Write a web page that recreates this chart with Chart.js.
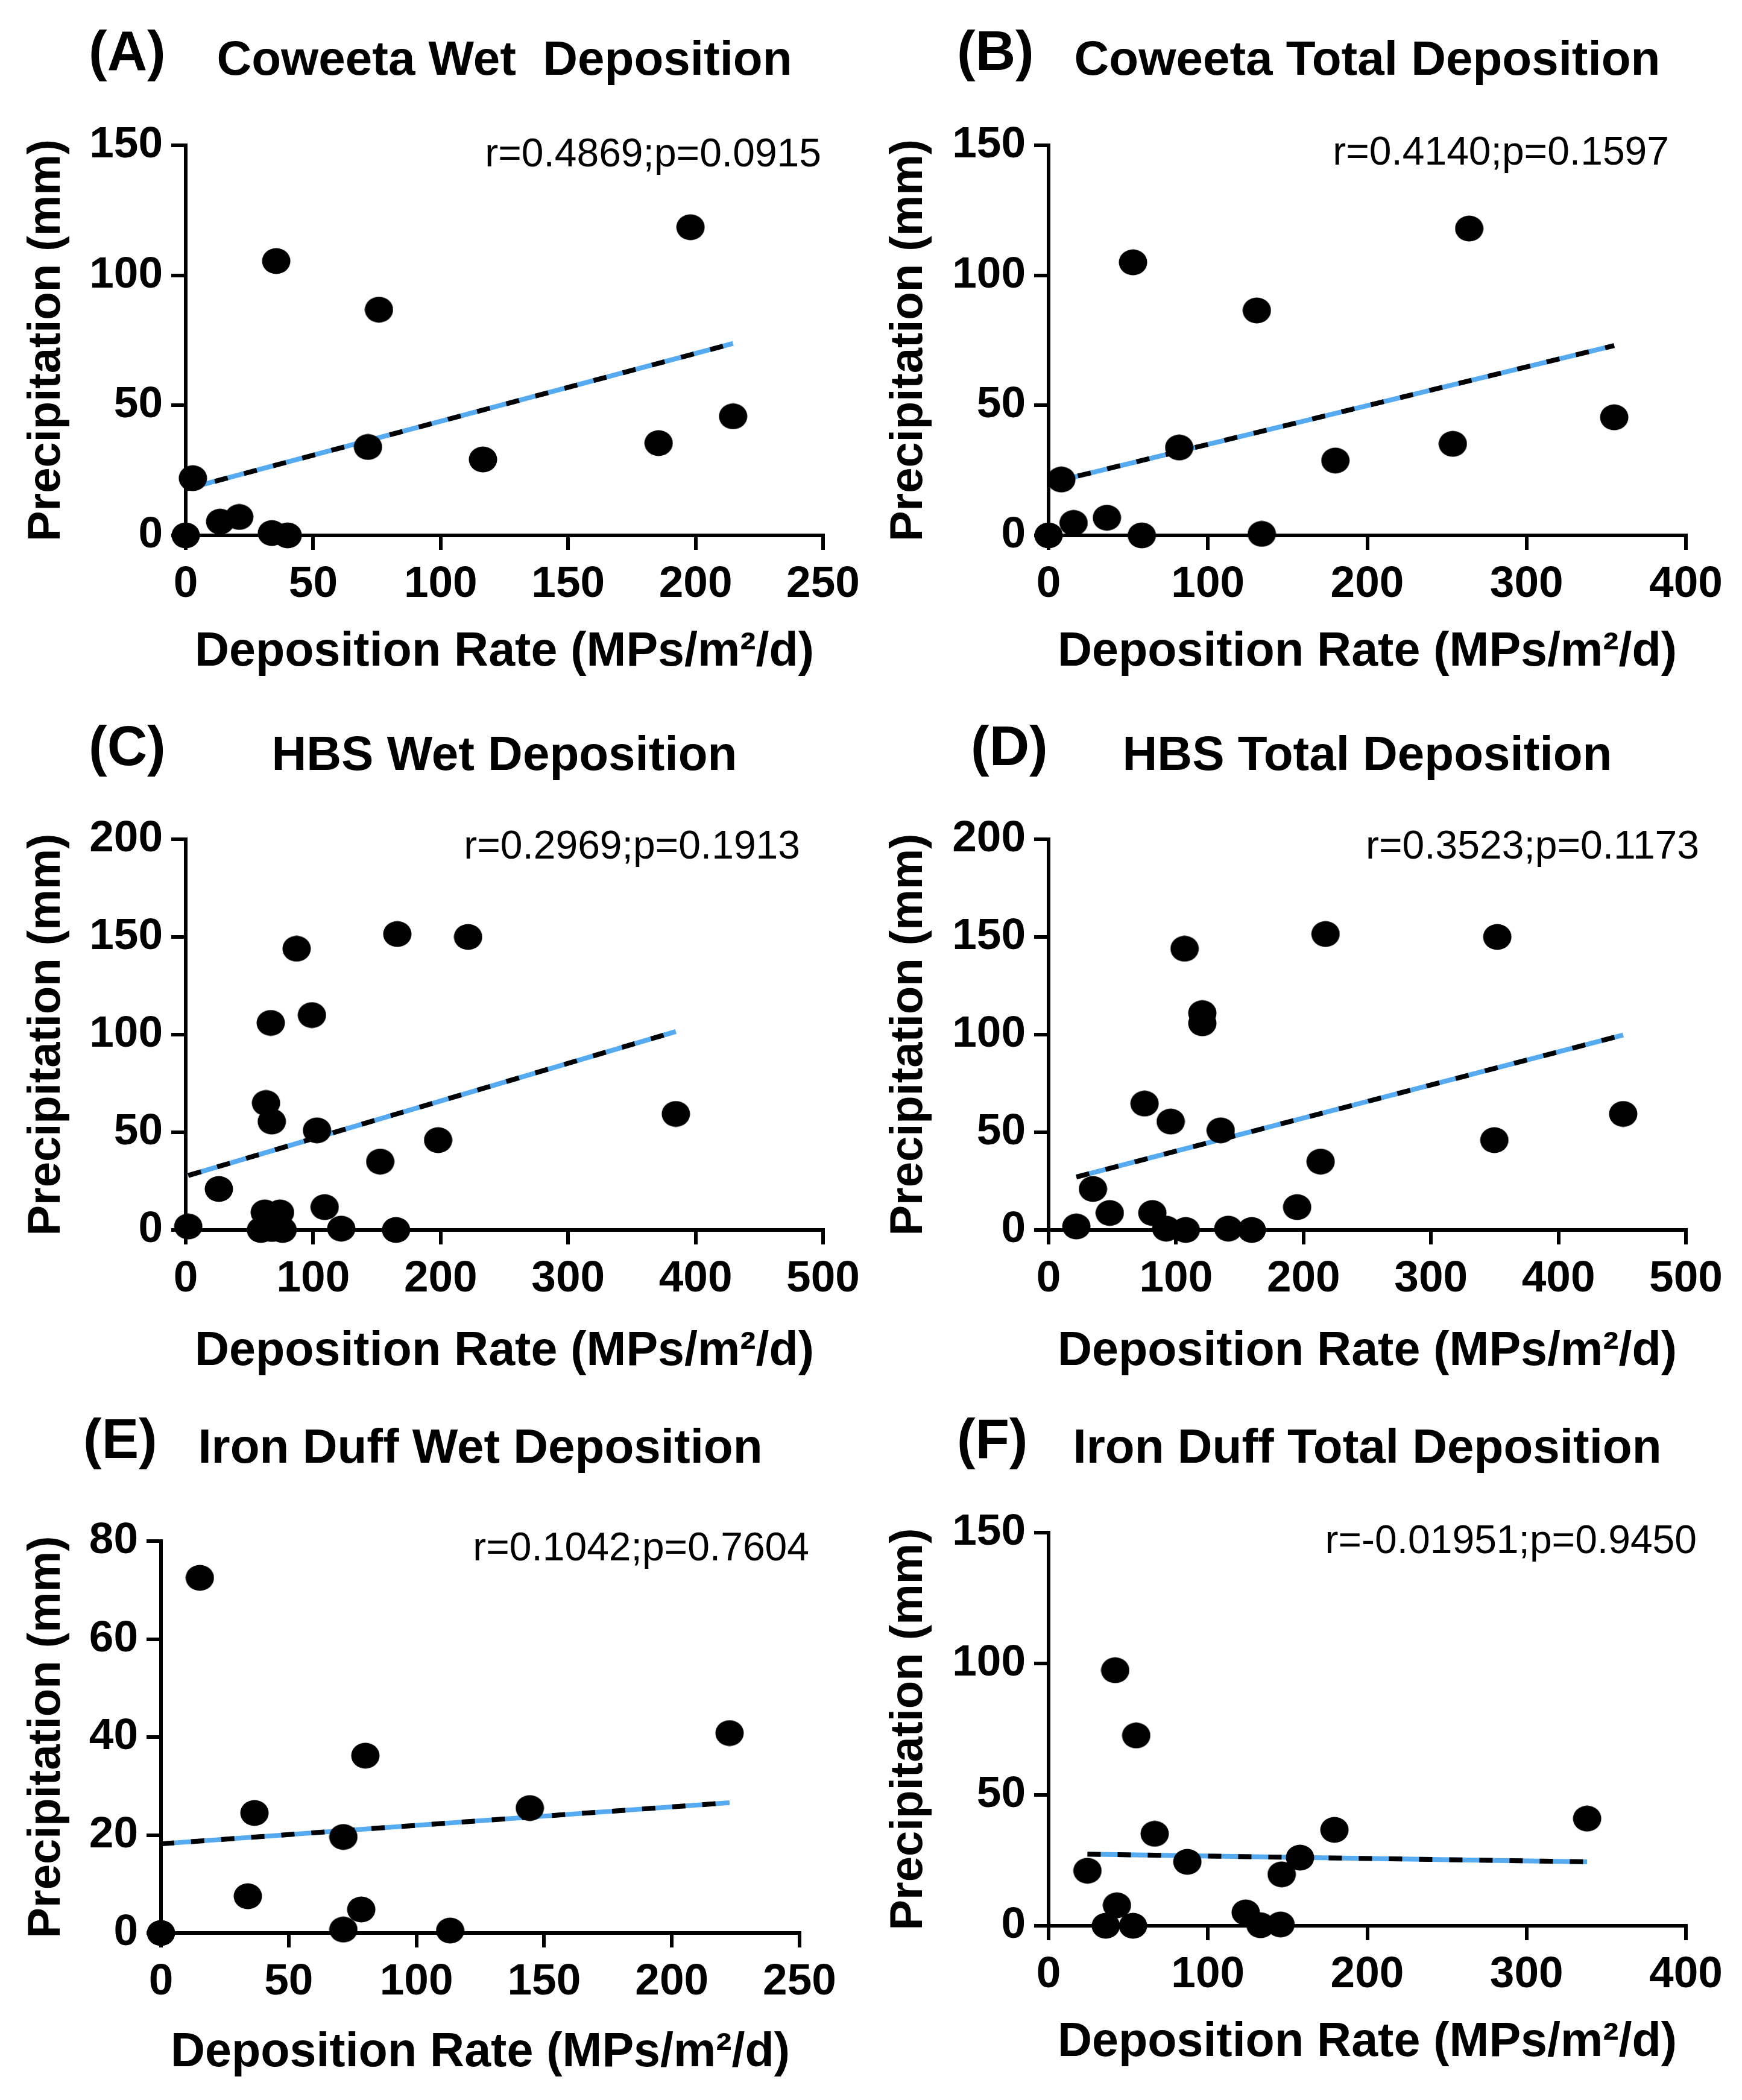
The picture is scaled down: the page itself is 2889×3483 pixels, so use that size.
<!DOCTYPE html>
<html>
<head>
<meta charset="utf-8">
<script src="https://cdn.jsdelivr.net/npm/chart.js@4.4.1/dist/chart.umd.min.js"></script>
<style>
  html, body { margin: 0; padding: 0; background: #fff; }
  #fig { position: relative; width: 2889px; height: 3483px; background: #fff; }
  #fig canvas { position: absolute; }
</style>
</head>
<body>
<div id="fig"></div>
<script>
const FONT = "'Liberation Sans', Arial, Helvetica, sans-serif";

// (A) Coweeta wet deposition
const aX = [0, 2.8, 13.5, 21, 33.8, 40, 35.5, 75.8, 71.5, 116.6, 198, 185.5, 214.7];
const aY = [0, 22, 5.3, 7.1, 0.9, 0, 105.5, 86.8, 34, 29.2, 118.5, 35.5, 45.8];
const aFitX = [0, 214.7];
const aFitY = [17.8, 73.8];

// (B) Coweeta total deposition
const bX = [0, 8, 15.7, 36.6, 58.5, 53, 82, 130.7, 133.8, 180, 264, 253.7, 355];
const bY = [0, 21.5, 4.8, 6.8, 0, 105, 33.8, 86.5, 0.6, 28.8, 118, 35.2, 45.4];
const bFitX = [0, 355];
const bFitY = [20.1, 73];

// (C) HBS wet deposition
const cX = [2, 26, 59, 62, 74, 67.5, 76, 63, 67.5, 66.7, 87, 99, 103, 109, 122, 152.6, 165, 166, 221.5, 198, 384.5];
const cY = [1.8, 21, 0, 9, 9, 0.5, 0, 65, 55.5, 106, 144, 110, 51, 11.7, 0.7, 35, 0, 151.5, 150, 46, 59.4];
const cFitX = [2, 384.5];
const cFitY = [27.9, 101.6];

// (D) HBS total deposition
const dX = [21.8, 34.8, 48, 81.4, 92.3, 107.6, 75.3, 95.8, 106.7, 120.6, 120.6, 135, 141, 159.4, 195, 213.4, 217.3, 352, 349.7, 450.8];
const dY = [1.8, 21, 8.7, 8.7, 0.7, 0, 64.7, 55.5, 144, 111, 105.8, 51, 0.7, 0, 11.7, 35, 151.5, 150, 46, 59.4];
const dFitX = [21.8, 450.8];
const dFitY = [27.1, 99.8];

// (E) Iron Duff wet deposition
const eX = [0, 15.2, 36.6, 34, 71.4, 71.4, 78.4, 80, 113.2, 144.4, 222.6];
const eY = [0, 72.5, 24.5, 7.5, 19.6, 0.7, 4.8, 36.2, 0.5, 25.5, 40.8];
const eFitX = [0, 222.6];
const eFitY = [18.2, 26.6];

// (F) Iron Duff total deposition
const fX = [24.4, 35.9, 41.8, 42.9, 53, 55, 66.6, 87.1, 123.7, 133, 145.6, 146.3, 157.8, 179.4, 338];
const fY = [21, 0, 97.5, 7.8, 0, 72.6, 35.1, 24.4, 5.1, 0.2, 0.5, 19.6, 26, 36.6, 40.9];
const fFitX = [24.4, 338];
const fFitY = [27.3, 24.4];

const labels = ['(A)', '(B)', '(C)', '(D)', '(E)', '(F)'];
const titles = [
  'Coweeta Wet  Deposition',
  'Coweeta Total Deposition',
  'HBS Wet Deposition',
  'HBS Total Deposition',
  'Iron Duff Wet Deposition',
  'Iron Duff Total Deposition'
];
const stats = [
  'r=0.4869;p=0.0915',
  'r=0.4140;p=0.1597',
  'r=0.2969;p=0.1913',
  'r=0.3523;p=0.1173',
  'r=0.1042;p=0.7604',
  'r=-0.01951;p=0.9450'
];
const xMax = [250, 400, 500, 500, 250, 400];
const xStep = [50, 100, 100, 100, 50, 100];
const yMax = [150, 150, 200, 200, 80, 150];
const yStep = [50, 50, 50, 50, 20, 50];

const xTitle = 'Deposition Rate (MPs/m\u00B2/d)';
const yTitle = 'Precipitation (mm)';

const series = [
  [aX, aY, aFitX, aFitY],
  [bX, bY, bFitX, bFitY],
  [cX, cY, cFitX, cFitY],
  [dX, dY, dFitX, dFitY],
  [eX, eY, eFitX, eFitY],
  [fX, fY, fFitX, fFitY]
];

// page layout (pixels): cell box, plot box and text anchors
const layout = [
  { left: 0,    top: 0,    w: 1444, h: 1160, pl: 308,  pt: 241,  pr: 1365, pb: 888,  labelX: 147, base: 124, statX: 1362, statY: 258, yPad: 32, xPad: 30 },
  { left: 1444, top: 0,    w: 1445, h: 1160, pl: 1739, pt: 241,  pr: 2796, pb: 888,  labelX: 143, base: 124, statX: 1324, statY: 255, yPad: 18, xPad: 30 },
  { left: 0,    top: 1160, w: 1444, h: 1160, pl: 308,  pt: 1392, pr: 1365, pb: 2040, labelX: 147, base: 117, statX: 1327, statY: 246, yPad: 32, xPad: 30 },
  { left: 1444, top: 1160, w: 1445, h: 1160, pl: 1739, pt: 1392, pr: 2796, pb: 2040, labelX: 166, base: 117, statX: 1374, statY: 246, yPad: 18, xPad: 30 },
  { left: 0,    top: 2320, w: 1444, h: 1163, pl: 267,  pt: 2556, pr: 1326, pb: 3206, labelX: 138, base: 106, statX: 1342, statY: 250, yPad: 32, xPad: 30 },
  { left: 1444, top: 2320, w: 1445, h: 1163, pl: 1739, pt: 2542, pr: 2796, pb: 3194, labelX: 143, base: 106, statX: 1370, statY: 238, yPad: 18, xPad: 47 }
];

// slightly oval filled marker, like the original dots
const dot = document.createElement('canvas');
dot.width = 48; dot.height = 44;
const g = dot.getContext('2d');
g.beginPath();
g.ellipse(24, 22, 23.5, 21.5, 0, 0, Math.PI * 2);
g.fillStyle = '#000';
g.fill();

const panelText = {
  id: 'panelText',
  afterDraw(chart, args, o) {
    const { ctx, chartArea } = chart;
    ctx.save();
    ctx.fillStyle = '#000';
    ctx.textBaseline = 'alphabetic';
    ctx.textAlign = 'left';
    ctx.font = `bold 92px ${FONT}`;
    ctx.fillText(o.label, o.labelX, o.base - 8);
    ctx.textAlign = 'center';
    ctx.font = `bold 80px ${FONT}`;
    ctx.fillText(o.title, (chartArea.left + chartArea.right) / 2, o.base);
    ctx.textAlign = 'right';
    ctx.textBaseline = 'middle';
    ctx.font = `66px ${FONT}`;
    ctx.fillText(o.stat, o.statX, o.statY);
    ctx.restore();
  }
};

function toPts(xs, ys) {
  return xs.map((x, i) => ({ x: x, y: ys[i] }));
}

const fig = document.getElementById('fig');

series.forEach((s, i) => {
  const L = layout[i];
  const c = document.createElement('canvas');
  c.width = L.w; c.height = L.h;
  c.style.left = L.left + 'px';
  c.style.top = L.top + 'px';
  c.style.width = L.w + 'px';
  c.style.height = L.h + 'px';
  fig.appendChild(c);

  const yW = L.pl - L.left;
  const xH = L.top + L.h - L.pb;
  const tickFont = { size: 73, weight: 'bold', family: FONT };
  const axisGrid = { display: true, drawOnChartArea: false, drawTicks: true, tickLength: 24, color: '#000', lineWidth: 6 };
  const axisBorder = { display: true, color: '#000', width: 6 };

  new Chart(c, {
    type: 'scatter',
    data: {
      datasets: [
        {
          data: toPts(s[0], s[1]),
          pointStyle: dot,
          pointRadius: 23,
          pointHoverRadius: 23,
          backgroundColor: '#000',
          borderWidth: 0,
          clip: false,
          order: 0
        },
        {
          type: 'line',
          data: toPts(s[2], s[3]),
          borderColor: '#000',
          borderWidth: 8,
          borderDash: [22, 28],
          pointRadius: 0,
          fill: false,
          clip: false,
          order: 1
        },
        {
          type: 'line',
          data: toPts(s[2], s[3]),
          borderColor: '#55aaf0',
          borderWidth: 8,
          pointRadius: 0,
          fill: false,
          clip: false,
          order: 2
        }
      ]
    },
    options: {
      responsive: false,
      animation: false,
      devicePixelRatio: 1,
      events: [],
      layout: { padding: { left: 0, top: L.pt - L.top, right: L.left + L.w - L.pr, bottom: 0 } },
      plugins: {
        legend: { display: false },
        tooltip: { enabled: false },
        panelText: {
          label: labels[i], title: titles[i], stat: stats[i],
          labelX: L.labelX, base: L.base, statX: L.statX, statY: L.statY
        }
      },
      scales: {
        x: {
          type: 'linear',
          min: 0,
          max: xMax[i],
          ticks: { stepSize: xStep[i], font: tickFont, color: '#000', padding: 14, maxRotation: 0, autoSkip: false },
          grid: axisGrid,
          border: axisBorder,
          title: {
            display: true, text: xTitle, color: '#000',
            font: { size: 79, weight: 'bold', family: FONT },
            padding: { top: 0, bottom: L.xPad }
          },
          afterFit: sc => { sc.height = xH; }
        },
        y: {
          type: 'linear',
          min: 0,
          max: yMax[i],
          ticks: { stepSize: yStep[i], font: tickFont, color: '#000', padding: 14, autoSkip: false },
          grid: axisGrid,
          border: axisBorder,
          title: {
            display: true, text: yTitle, color: '#000',
            font: { size: 76, weight: 'bold', family: FONT },
            padding: { top: L.yPad, bottom: 0 }
          },
          afterFit: sc => { sc.width = yW; }
        }
      }
    },
    plugins: [panelText]
  });
});
</script>
</body>
</html>
